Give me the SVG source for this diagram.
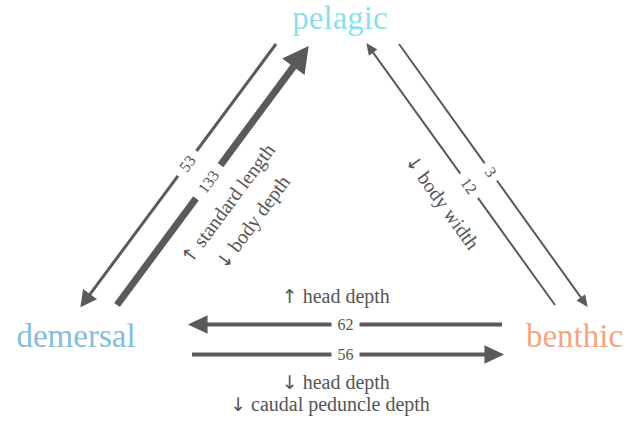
<svg xmlns="http://www.w3.org/2000/svg" width="635" height="421" viewBox="0 0 635 421">
<style>
.node{font-family:"Liberation Serif","DejaVu Serif",serif;font-size:33px;text-anchor:middle}
.lab{font-family:"Liberation Serif","DejaVu Serif",serif;font-size:20px;fill:#555;text-anchor:middle}
.ar{font-family:"DejaVu Sans",sans-serif;font-size:19px}
.num{font-family:"Liberation Serif","DejaVu Serif",serif;font-size:16px;fill:#555;text-anchor:middle}
.e{stroke:#5a5a5a;fill:none;stroke-linecap:butt}
</style>
<defs>
<marker id="mThin" markerUnits="userSpaceOnUse" markerWidth="20" markerHeight="20" viewBox="-1 -8 15 16" refX="0.5" refY="0" orient="auto"><path d="M0,-7 L13,0 L0,7 z" fill="#5a5a5a"/></marker>
<marker id="mThick" markerUnits="userSpaceOnUse" markerWidth="30" markerHeight="30" viewBox="-1 -14 26 28" refX="0.5" refY="0" orient="auto"><path d="M0,-13 L24,0 L0,13 z" fill="#5a5a5a"/></marker>
<marker id="mSmall" markerUnits="userSpaceOnUse" markerWidth="14" markerHeight="14" viewBox="-1 -5 12 10" refX="0.5" refY="0" orient="auto"><path d="M0,-4.5 L10,0 L0,4.5 z" fill="#5a5a5a"/></marker>
<marker id="mMed" markerUnits="userSpaceOnUse" markerWidth="22" markerHeight="22" viewBox="-1 -9 19 18" refX="0.5" refY="0" orient="auto"><path d="M0,-8 L17,0 L0,8 z" fill="#5a5a5a"/></marker>
</defs>
<rect width="635" height="421" fill="#fff"/>
<g id="edges">
<g id="e-pel-dem">
<line class="e" stroke-width="3" x1="276" y1="44" x2="196.5" y2="151"/>
<path class="e" stroke-width="3" d="M178,175.9 L89.7,294.6" marker-end="url(#mThin)"/>
<text class="num" transform="translate(187.2,163.4) rotate(-53.5)" dy="0.35em">53</text>
</g>
<g id="e-dem-pel">
<line class="e" stroke-width="7" x1="117" y1="305" x2="196" y2="198.3"/>
<path class="e" stroke-width="7" d="M220.5,165.2 L293.7,66.3" marker-end="url(#mThick)"/>
<text class="num" transform="translate(208.3,181.7) rotate(-53.5)" dy="0.35em">133</text>
<text class="lab" transform="translate(233.3,207.6) rotate(-53.5)"><tspan class="ar">↑</tspan> standard length</text>
<text class="lab" transform="translate(254.2,223.1) rotate(-53.5)" dy="5"><tspan class="ar">↓</tspan> body depth</text>
</g>
<g id="e-ben-pel">
<line class="e" stroke-width="2" x1="555" y1="305" x2="477.9" y2="197.9"/>
<path class="e" stroke-width="2" d="M460.3,173.6 L372.8,52.1" marker-end="url(#mSmall)"/>
<text class="num" transform="translate(469.1,185.8) rotate(54.2)" dy="0.35em">12</text>
<text class="lab" transform="translate(436.8,206) rotate(54.2)"><tspan class="ar">↓</tspan> body width</text>
</g>
<g id="e-pel-ben">
<line class="e" stroke-width="2" x1="399" y1="44" x2="484.7" y2="163.4"/>
<path class="e" stroke-width="2" d="M496.9,180.5 L581.2,297.9" marker-end="url(#mSmall)"/>
<text class="num" transform="translate(490.9,172) rotate(54.2)" dy="0.35em">3</text>
</g>
<g id="e-ben-dem">
<line class="e" stroke-width="4" x1="502" y1="324.5" x2="359.5" y2="324.5"/>
<path class="e" stroke-width="4" d="M331.5,324.5 L207,324.5" marker-end="url(#mMed)"/>
<text class="num" x="345.5" y="330">62</text>
<text class="lab" x="335.8" y="303.3"><tspan class="ar">↑</tspan> head depth</text>
</g>
<g id="e-dem-ben">
<line class="e" stroke-width="4" x1="192" y1="354.5" x2="331.5" y2="354.5"/>
<path class="e" stroke-width="4" d="M359.5,354.5 L485,354.5" marker-end="url(#mMed)"/>
<text class="num" x="345.5" y="360">56</text>
<text class="lab" x="335.8" y="389.3"><tspan class="ar">↓</tspan> head depth</text>
<text class="lab" x="330" y="410.7"><tspan class="ar">↓</tspan> caudal peduncle depth</text>
</g>
</g>
<g id="pelagic"><text class="node" x="340" y="29" fill="#8adfe8">pelagic</text></g>
<g id="demersal"><text class="node" x="76" y="347" fill="#86bcd9">demersal</text></g>
<g id="benthic"><text class="node" x="574.5" y="347" fill="#f4a582">benthic</text></g>
</svg>
